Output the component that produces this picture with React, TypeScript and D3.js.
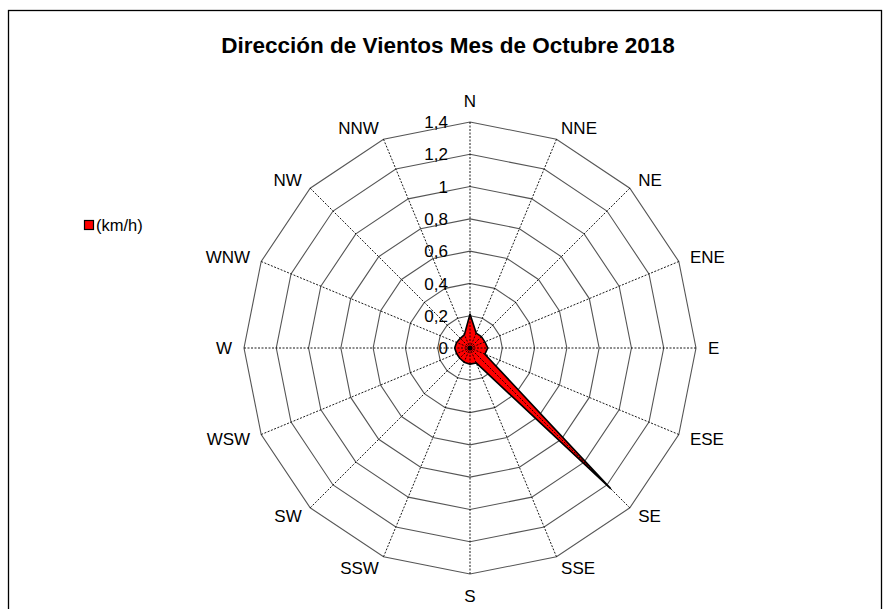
import React, { useEffect, useRef } from 'react'
import * as d3 from 'd3'

const directions = ['N', 'NNE', 'NE', 'ENE', 'E', 'ESE', 'SE', 'SSE', 'S', 'SSW', 'SW', 'WSW', 'W', 'WNW', 'NW', 'NNW']
const speeds = [0.21, 0.1, 0.1, 0.1, 0.11, 0.1, 1.23, 0.1, 0.1, 0.095, 0.09, 0.09, 0.095, 0.09, 0.085, 0.09]
const ticks = [0, 0.2, 0.4, 0.6, 0.8, 1, 1.2, 1.4]
const seriesName = '(km/h)'
const title = 'Dirección de Vientos Mes de Octubre 2018'

export default function App() {
  const ref = useRef<SVGSVGElement>(null)

  useEffect(() => {
    const el = ref.current
    if (!el) return
    const svg = d3.select(el)
    svg.selectAll('*').remove()

    const cx = 470, cy = 348, R = 226
    const font = 'Liberation Sans, Arial, sans-serif'
    const r = d3.scaleLinear().domain([0, 1.4]).range([0, R])
    const step = (2 * Math.PI) / directions.length
    const a = (i: number) => i * step

    svg.append('rect').attr('x', 8.5).attr('y', 10.5).attr('width', 873).attr('height', 620)
      .attr('fill', 'white').attr('stroke', 'black').attr('stroke-width', 1.3)

    svg.append('text').attr('x', 448).attr('y', 53).attr('text-anchor', 'middle')
      .attr('font-family', font).attr('font-weight', 'bold').attr('font-size', 22.5)
      .text(title)

    const g = svg.append('g').attr('transform', `translate(${cx},${cy})`)

    const ringLine = d3.lineRadial<number>().angle((_, i) => a(i)).curve(d3.curveLinearClosed)

    // rings
    g.selectAll('path.ring').data(ticks.slice(1)).join('path').attr('class', 'ring')
      .attr('d', t => ringLine.radius(() => r(t))(directions.map(() => t)) as string)
      .attr('fill', 'none').attr('stroke', '#555').attr('stroke-width', 1.1)

    // series
    const seriesLine = d3.lineRadial<number>().angle((_, i) => a(i)).radius(d => r(d)).curve(d3.curveLinearClosed)
    g.append('path').attr('d', seriesLine(speeds) as string)
      .attr('fill', '#ff0000').attr('stroke', 'black').attr('stroke-width', 1.6).attr('stroke-linejoin', 'round')

    // spokes
    g.selectAll('line.spoke').data(directions).join('line').attr('class', 'spoke')
      .attr('x1', 0).attr('y1', 0)
      .attr('x2', (_, i) => r(1.4) * Math.sin(a(i)))
      .attr('y2', (_, i) => -r(1.4) * Math.cos(a(i)))
      .attr('stroke', 'black').attr('stroke-width', 0.9).attr('stroke-dasharray', '2,1.5')

    g.append('circle').attr('r', 2.6).attr('fill', 'black')

    // tick labels
    g.selectAll('text.tick').data(ticks).join('text').attr('class', 'tick')
      .attr('x', -22).attr('y', t => -r(t)).attr('dy', '0.36em')
      .attr('text-anchor', 'end').attr('font-family', font).attr('font-size', 17)
      .text(t => String(t).replace('.', ','))

    // direction labels
    g.selectAll('text.dir').data(directions).join('text').attr('class', 'dir')
      .each(function (d, i) {
        const s = Math.sin(a(i)), c = Math.cos(a(i))
        const rr = R + 12
        const t = d3.select(this)
        t.attr('x', rr * s).attr('y', -rr * c)
          .attr('text-anchor', Math.abs(s) < 0.01 ? 'middle' : s > 0 ? 'start' : 'end')
          .attr('dy', c > 0.99 ? '-0.2em' : c < -0.99 ? '0.95em' : '0.36em')
      })
      .attr('font-family', font).attr('font-size', 17)
      .text(d => d)

    // legend
    const lg = svg.append('g').attr('transform', 'translate(84,220)')
    lg.append('rect').attr('x', 0.5).attr('y', 0.5).attr('width', 9).attr('height', 9)
      .attr('fill', '#ff0000').attr('stroke', 'black').attr('stroke-width', 1.2)
    lg.append('text').attr('x', 12).attr('y', 5).attr('dy', '0.36em')
      .attr('font-family', font).attr('font-size', 16.5).text(seriesName)
  }, [])

  return <svg ref={ref} width={891} height={609} style={{ position: 'absolute', left: 0, top: 0 }} />
}
